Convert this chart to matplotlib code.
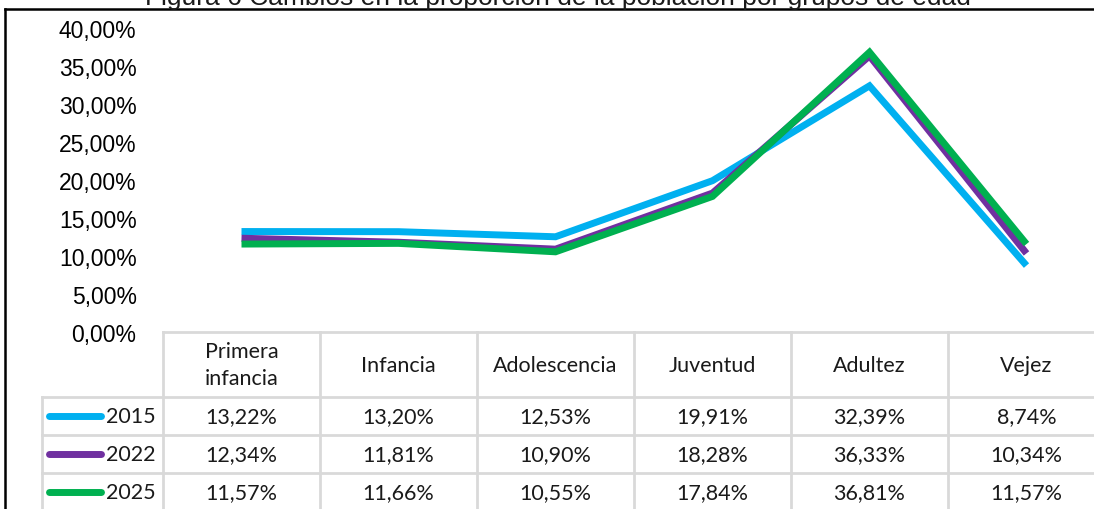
import matplotlib.pyplot as plt
from matplotlib.lines import Line2D
from matplotlib.ticker import FuncFormatter

# --- DONNÉES ---
categories = ["Primera\ninfancia", "Infancia", "Adolescencia", "Juventud", "Adultez", "Vejez"]
years = ["2015", "2022", "2025"]
v2015 = [13.22, 13.20, 12.53, 19.91, 32.39, 8.74]
v2022 = [12.34, 11.81, 10.90, 18.28, 36.33, 10.34]
v2025 = [11.57, 11.66, 10.55, 17.84, 36.81, 11.57]
series = [v2015, v2022, v2025]
colors = ["#00B0F0", "#7030A0", "#00B050"]
title = "Figura 6 Cambios en la proporción de la población por grupos de edad"

W, H = 1094, 510
fig = plt.figure(figsize=(W / 100, H / 100), dpi=100)


def fx(px):
    return px / W


def fy(py):
    return 1 - py / H


# zone du graphique (en pixels de la référence)
x0, col_w = 163, 157
y_top, y_zero = 29, 333
ax = fig.add_axes([fx(x0), fy(y_zero), col_w * 6 / W, (y_zero - y_top) / H])
xs = list(range(len(categories)))
for vals, c in zip(series, colors):
    ax.plot(xs, vals, color=c, linewidth=5, solid_joinstyle="miter", solid_capstyle="butt")
ax.set_xlim(-0.5, len(categories) - 0.5)
ax.set_ylim(0, 40)
ax.set_yticks(range(0, 41, 5))
ax.yaxis.set_major_formatter(FuncFormatter(lambda v, p: f"{v:.2f}%".replace(".", ",")))
ax.tick_params(axis="y", length=0, pad=19, labelsize=16.5)
for lab in ax.get_yticklabels():
    lab.set_fontfamily("Liberation Sans")
ax.set_xticks([])
for s in ax.spines.values():
    s.set_visible(False)

# --- TABLEAU DE DONNÉES ---
grid_c = "#D9D9D9"
rows_y = [333, 398, 436, 474, 512]
tfont = dict(family="Lato", fontsize=15.5, color="#1a1a1a")
for k in range(7):
    x = x0 + col_w * k
    fig.add_artist(Line2D([fx(x), fx(x)], [fy(333), fy(512)], color=grid_c, lw=2))
fig.add_artist(Line2D([fx(42), fx(42)], [fy(398), fy(512)], color=grid_c, lw=2))
fig.add_artist(Line2D([fx(x0), 1], [fy(333), fy(333)], color=grid_c, lw=2))
for y in rows_y[1:4]:
    fig.add_artist(Line2D([fx(42), 1], [fy(y), fy(y)], color=grid_c, lw=2))

for i, cat in enumerate(categories):
    cx = x0 + col_w * (i + 0.5)
    fig.text(fx(cx), fy((rows_y[0] + rows_y[1]) / 2), cat, ha="center", va="center",
             linespacing=1.45, **tfont)
for r, (yr, vals, c) in enumerate(zip(years, series, colors)):
    cy = (rows_y[r + 1] + rows_y[r + 2]) / 2
    fig.add_artist(Line2D([fx(49), fx(101)], [fy(cy), fy(cy)], color=c, lw=5,
                          solid_capstyle="round"))
    fig.text(fx(106), fy(cy), yr, ha="left", va="center", **tfont)
    for i, v in enumerate(vals):
        cx = x0 + col_w * (i + 0.5)
        fig.text(fx(cx), fy(cy), f"{v:.2f}%".replace(".", ","), ha="center", va="center", **tfont)

# cadre et titre
fig.add_artist(Line2D([fx(5), fx(5)], [fy(10), 0], color="black", lw=1.8))
fig.add_artist(Line2D([fx(5), 1], [fy(10), fy(10)], color="black", lw=1.8))
fig.text(fx(558), fy(5), title, ha="center", va="baseline", family="Liberation Sans",
         fontsize=19, color="#1a1a1a")

fig.savefig("out.png", dpi=100)
